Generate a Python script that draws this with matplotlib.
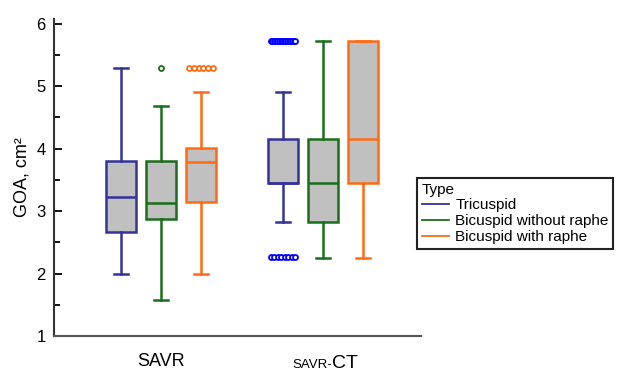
import numpy as np
import matplotlib
matplotlib.use("Agg")
import matplotlib.pyplot as plt
from matplotlib.lines import Line2D

plt.rcParams['font.family'] = ['Liberation Sans', 'DejaVu Sans']

# datos (GOA, cm2)
groups = ['SAVR', 'SAVR-CT']
types = ['Tricuspid', 'Bicuspid without raphe', 'Bicuspid with raphe']
colors = ['#333399', '#1b6e1b', '#ff6a12']

# min whisker, q1, mediana, q3, max whisker  (por grupo, por tipo)
savr_stats = [
    [2.00, 2.67, 3.22, 3.80, 5.30],
    [1.58, 2.88, 3.13, 3.80, 4.69],
    [2.00, 3.15, 3.79, 4.01, 4.90],
]
ct_stats = [
    [2.82, 3.45, 3.45, 4.15, 4.90],
    [2.25, 2.82, 3.45, 4.15, 5.72],
    [2.25, 3.45, 4.15, 5.72, 5.72],
]
# outliers
savr_fliers = [[], [5.30], [5.30] * 6]
ct_fliers = [[5.72] * 16 + [2.26] * 8, [], []]

offsets = [-0.247, 0.0, 0.247]
box_w = 0.18

fig = plt.figure(figsize=(6.17, 3.71), dpi=100)
ax = fig.add_axes([0.0875, 0.0943, 0.595, 0.855])

for gi, (stats, fliers) in enumerate([(savr_stats, savr_fliers), (ct_stats, ct_fliers)]):
    for ti in range(3):
        lo, q1, med, q3, hi = stats[ti]
        pos = gi + offsets[ti]
        c = colors[ti]
        ax.bxp([dict(whislo=lo, q1=q1, med=med, q3=q3, whishi=hi, fliers=[])],
               positions=[pos], widths=box_w, patch_artist=True, showfliers=False,
               boxprops=dict(facecolor='#c0c0c0', edgecolor=c, linewidth=1.8),
               medianprops=dict(color=c, linewidth=1.8),
               whiskerprops=dict(color=c, linewidth=1.8),
               capprops=dict(color=c, linewidth=1.8), capwidths=box_w / 2)
        fl = fliers[ti]
        if fl:
            # separar puntos iguales a lo ancho de la caja
            vals = sorted(set(fl))
            for v in vals:
                n = fl.count(v)
                if n == 1:
                    xs = [pos]
                else:
                    xs = np.linspace(pos - box_w * 0.42, pos + box_w * 0.42, n)
                ec = '#0000ff' if ti == 0 else c
                ax.plot(xs, [v] * n, 'o', ms=3.6, mfc='white', mec=ec, mew=1.3,
                        linestyle='none')

ax.set_xlim(-0.66, 1.605)
ax.set_ylim(1, 6.08)
ax.set_yticks([1, 2, 3, 4, 5, 6])
ax.set_yticks(np.arange(1.5, 6, 1), minor=True)
ax.tick_params(axis='y', direction='in', length=6, width=1.3, labelsize=12, pad=6)
ax.tick_params(axis='y', which='minor', direction='in', length=4, width=1.3)
ax.set_xticks([])
for s in ['top', 'right']:
    ax.spines[s].set_visible(False)
ax.spines['left'].set_linewidth(1.5)
ax.spines['left'].set_color('#333333')
ax.spines['bottom'].set_linewidth(1.5)
ax.spines['bottom'].set_color('#555555')
ax.set_ylabel('GOA, cm²', fontsize=13, labelpad=4)

ax.text(0, -0.095, 'SAVR', transform=ax.get_xaxis_transform(),
        ha='center', va='baseline', fontsize=13)
ax.text(1.056, -0.1, 'SAVR-', transform=ax.get_xaxis_transform(),
        ha='right', va='baseline', fontsize=9.5)
ax.text(1.056, -0.1, 'CT', transform=ax.get_xaxis_transform(),
        ha='left', va='baseline', fontsize=14)

handles = [Line2D([], [], color=c, lw=1.3) for c in colors]
leg = fig.legend(handles, types, title='Type', loc='upper left',
                 bbox_to_anchor=(0.676, 0.52), bbox_transform=fig.transFigure,
                 borderaxespad=0, fontsize=11, title_fontsize=11,
                 handlelength=1.8, handletextpad=0.4, labelspacing=0.12,
                 borderpad=0.3, fancybox=False, framealpha=1)
leg._legend_box.align = 'left'
leg.get_frame().set_edgecolor('#222222')
leg.get_frame().set_linewidth(1.5)

fig.savefig('out.png', dpi=100)
